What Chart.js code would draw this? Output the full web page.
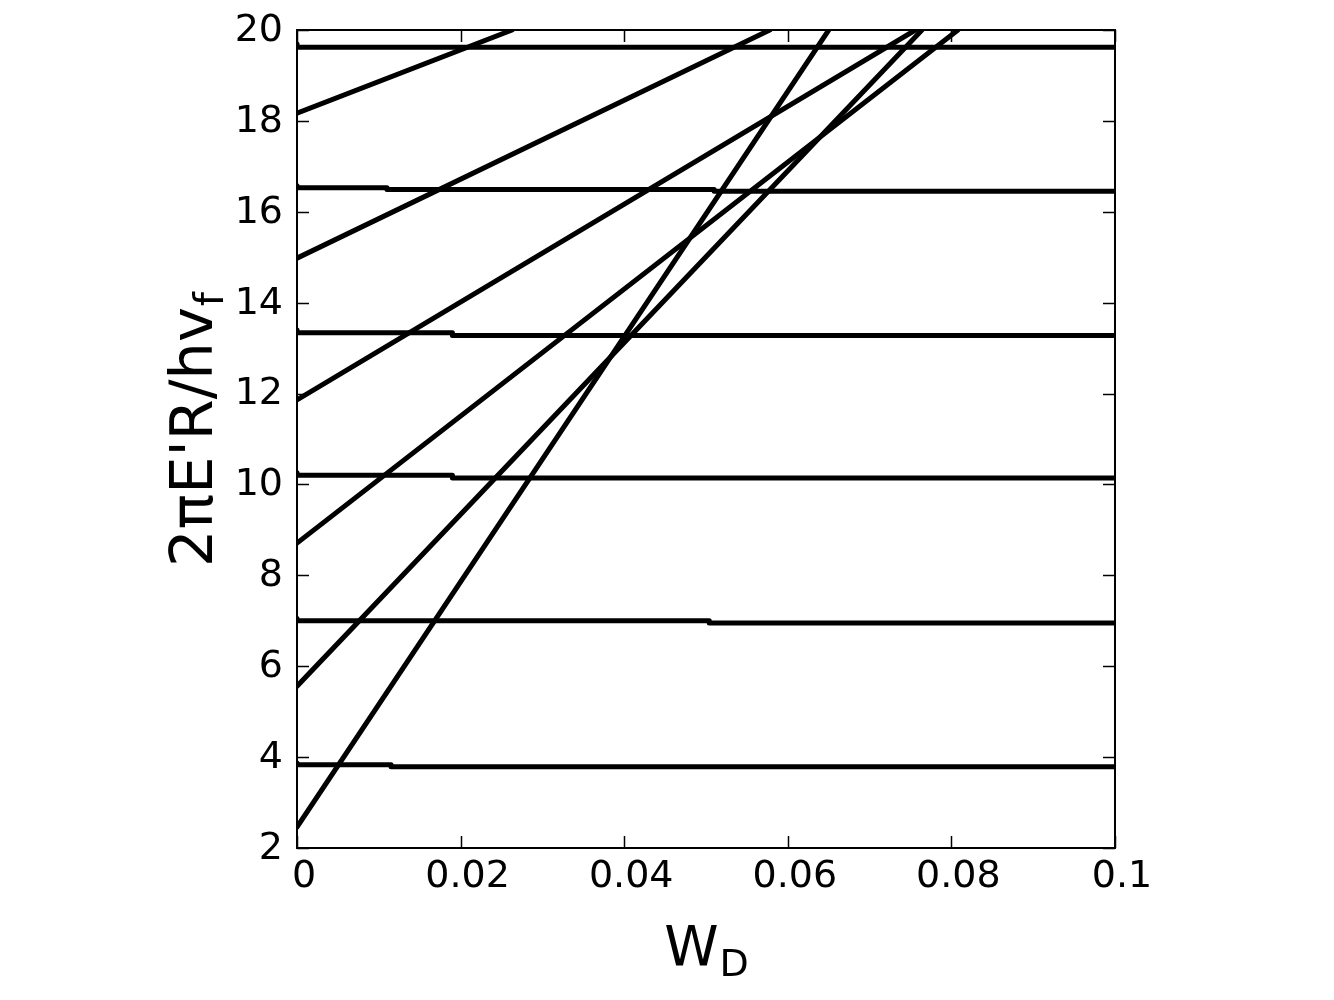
<!DOCTYPE html>
<html>
<head>
<meta charset="utf-8">
<script src="https://cdn.jsdelivr.net/npm/chart.js@4/dist/chart.umd.min.js"></script>
<style>
  html, body { margin: 0; padding: 0; background: #fff; }
  canvas { display: block; }
</style>
</head>
<body>
<canvas id="chart" width="1334" height="1000"></canvas>
<script>
/* ---------- data ---------- */

// flat levels (slight steps down as W_D grows)
const level1X = [0, 0.0115, 0.0559, 0.1];
const level1Y = [3.87, 3.83, 3.79, 3.79];
const level2X = [0, 0.0504, 0.0933, 0.1];
const level2Y = [7.05, 7.00, 6.95, 6.95];
const level3X = [0, 0.019, 0.0605, 0.1];
const level3Y = [10.26, 10.20, 10.14, 10.14];
const level4X = [0, 0.019, 0.0595, 0.1];
const level4Y = [13.40, 13.34, 13.28, 13.28];
const level5X = [0, 0.011, 0.051, 0.09, 0.1];
const level5Y = [16.57, 16.53, 16.49, 16.45, 16.45];
const level6X = [0, 0.035, 0.1];
const level6Y = [19.69, 19.62, 19.62];

// rising lines: value at W_D = 0, and W_D where they reach the top (20)
const riseStartY = [2.46, 5.56, 8.71, 11.86, 14.98, 18.17];
const riseEndX = [0.065, 0.0764, 0.0808, 0.0756, 0.0578, 0.0263];
const riseTopY = 20;

// axes
const xMin = 0, xMax = 0.1, xStep = 0.02;
const yMin = 2, yMax = 20, yStep = 2;
const xTitle = "W";
const xTitleSub = "D";
const yTitle = "2\u03c0E'R/hv";
const yTitleSub = "f";


/* ---------- build datasets ---------- */
function pts(xs, ys) {
  return xs.map((x, i) => ({ x: x, y: ys[i] }));
}

const lineStyle = {
  showLine: true,
  borderColor: "#000",
  backgroundColor: "#000",
  borderWidth: 5,
  pointRadius: 0,
  borderCapStyle: "round",
  borderJoinStyle: "round",
  tension: 0
};

const datasets = [];

[[level1X, level1Y], [level2X, level2Y], [level3X, level3Y],
 [level4X, level4Y], [level5X, level5Y], [level6X, level6Y]].forEach(([xs, ys]) => {
  datasets.push(Object.assign({}, lineStyle, { data: pts(xs, ys), stepped: "after" }));
});

riseStartY.forEach((y0, i) => {
  datasets.push(Object.assign({}, lineStyle, {
    data: [{ x: 0, y: y0 }, { x: riseEndX[i], y: riseTopY }]
  }));
});


/* ---------- frame, inward ticks, axis titles ---------- */
const frameTicks = {
  id: "frameTicks",
  afterDraw(chart) {
    const { ctx, chartArea: a, scales } = chart;
    const len = 12;
    ctx.save();
    ctx.strokeStyle = "#000";

    ctx.lineWidth = 1.5;
    ctx.beginPath();
    scales.x.ticks.forEach(t => {
      const px = Math.round(scales.x.getPixelForValue(t.value)) + 0.5;
      ctx.moveTo(px, a.bottom); ctx.lineTo(px, a.bottom - len);
      ctx.moveTo(px, a.top); ctx.lineTo(px, a.top + len);
    });
    scales.y.ticks.forEach(t => {
      const py = Math.round(scales.y.getPixelForValue(t.value)) + 0.5;
      ctx.moveTo(a.left, py); ctx.lineTo(a.left + len, py);
      ctx.moveTo(a.right, py); ctx.lineTo(a.right - len, py);
    });
    ctx.stroke();

    ctx.lineWidth = 2;
    ctx.strokeRect(a.left, a.top, a.right - a.left, a.bottom - a.top);

    // x title with subscript
    ctx.fillStyle = "#000";
    ctx.textBaseline = "alphabetic";
    ctx.textAlign = "left";
    const big = "55px 'DejaVu Sans'";
    const small = "38px 'DejaVu Sans'";
    ctx.font = big;
    const wMain = ctx.measureText(xTitle).width;
    ctx.font = small;
    const wSub = ctx.measureText(xTitleSub).width;
    const cx = (a.left + a.right) / 2;
    let x0 = cx - (wMain + wSub) / 2;
    ctx.font = big;
    ctx.fillText(xTitle, x0, 965);
    ctx.font = small;
    ctx.fillText(xTitleSub, x0 + wMain + 1, 976);

    // y title, rotated
    const bigY = "59px 'DejaVu Sans'";
    const smallY = "40px 'DejaVu Sans'";
    ctx.translate(212, 430);
    ctx.rotate(-Math.PI / 2);
    ctx.font = bigY;
    const yMain = ctx.measureText(yTitle).width;
    ctx.font = smallY;
    const ySub = ctx.measureText(yTitleSub).width;
    x0 = -(yMain + ySub) / 2;
    ctx.font = bigY;
    ctx.fillText(yTitle, x0, 0);
    ctx.font = smallY;
    ctx.fillText(yTitleSub, x0 + yMain + 1, 11);
    ctx.restore();
  }
};

// keep tick labels from pushing the plot area around
function noLabelPad(s) {
  s.paddingTop = 0;
  s.paddingBottom = 0;
  s.paddingLeft = 0;
  s.paddingRight = 0;
}


/* ---------- chart ---------- */
new Chart(document.getElementById("chart"), {
  type: "scatter",
  data: { datasets: datasets },
  plugins: [frameTicks],
  options: {
    responsive: false,
    animation: false,
    layout: { padding: { top: 30, right: 219, left: 0, bottom: 0 } },
    plugins: { legend: { display: false }, tooltip: { enabled: false } },
    scales: {
      x: {
        type: "linear",
        min: xMin,
        max: xMax,
        afterFit: s => { s.height = 152; noLabelPad(s); },
        grid: { drawOnChartArea: false, drawTicks: false },
        border: { display: false },
        ticks: {
          stepSize: xStep,
          padding: 6,
          labelOffset: 7,
          color: "#000",
          font: { family: "DejaVu Sans", size: 38 },
          callback: v => String(+v.toFixed(2))
        }
      },
      y: {
        type: "linear",
        min: yMin,
        max: yMax,
        afterFit: s => { s.width = 297; noLabelPad(s); },
        grid: { drawOnChartArea: false, drawTicks: false },
        border: { display: false },
        ticks: {
          stepSize: yStep,
          padding: 14,
          labelOffset: 1,
          color: "#000",
          font: { family: "DejaVu Sans", size: 38 },
          callback: v => String(v)
        }
      }
    }
  }
});
</script>
</body>
</html>
